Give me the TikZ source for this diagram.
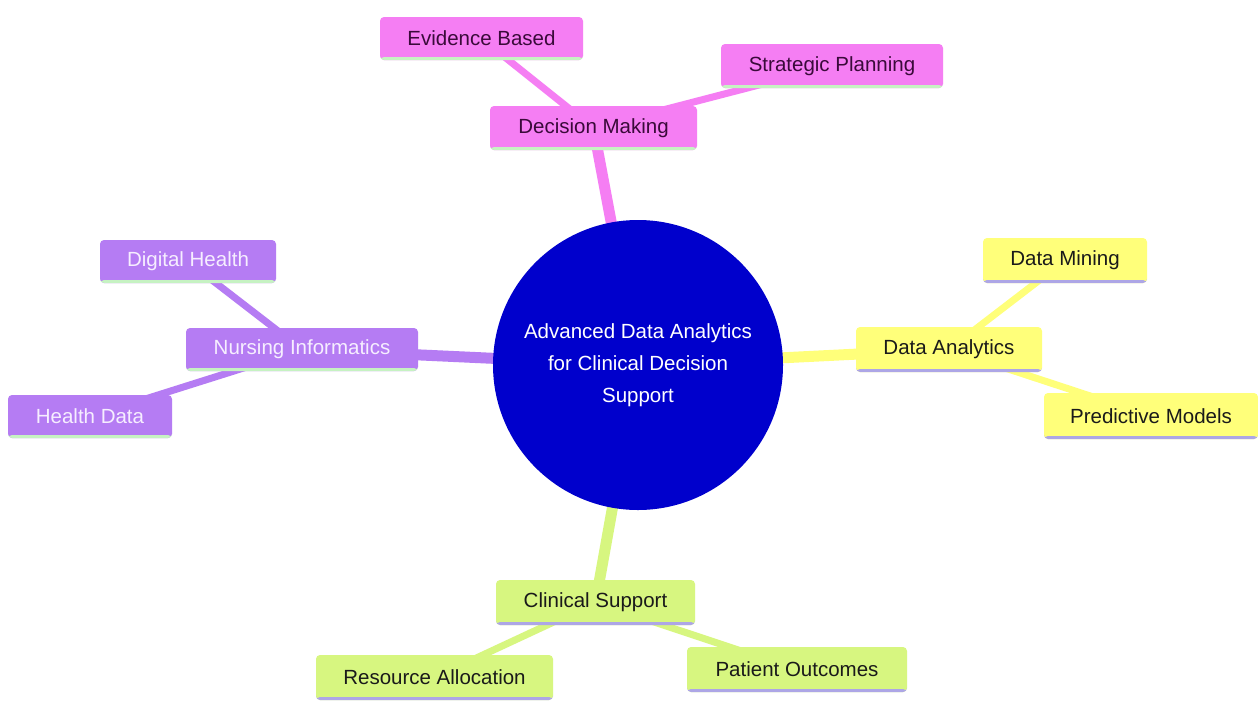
\documentclass[tikz,border=0pt]{standalone}
\usepackage{fontspec}
\setmainfont{Liberation Sans}
\pgfdeclarelayer{bg}
\pgfsetlayers{bg,main}
\definecolor{pinkc}{HTML}{F57EF3}
\definecolor{pinkt}{HTML}{3A0A3A}
\definecolor{purc}{HTML}{B57CF3}
\definecolor{purt}{HTML}{F6EEFF}
\definecolor{yelc}{HTML}{FFFF7A}
\definecolor{grnc}{HTML}{D7F680}
\definecolor{darkt}{HTML}{1A1A1A}
\definecolor{lgreen}{HTML}{C6F2C2}
\definecolor{lav}{HTML}{ADA6E6}
\definecolor{rootc}{HTML}{0000CC}
\begin{document}
\begin{tikzpicture}[x=1pt,y=-1pt,
  mm/.style={rectangle, rounded corners=4pt, inner sep=0pt, minimum height=44pt,
    font=\fontsize{20.5}{24}\selectfont},
  pinkbox/.style={mm, fill=pinkc, text=pinkt, path picture={\fill[lgreen] ([yshift=3pt]path picture bounding box.south west) rectangle (path picture bounding box.south east);}},
  purbox/.style={mm, fill=purc, text=purt, path picture={\fill[lgreen] ([yshift=3pt]path picture bounding box.south west) rectangle (path picture bounding box.south east);}},
  yelbox/.style={mm, fill=yelc, text=darkt, path picture={\fill[lav] ([yshift=3pt]path picture bounding box.south west) rectangle (path picture bounding box.south east);}},
  grnbox/.style={mm, fill=grnc, text=darkt, path picture={\fill[lav] ([yshift=3pt]path picture bounding box.south west) rectangle (path picture bounding box.south east);}},
  mainedge/.style={line width=11pt},
  subedge/.style={line width=7pt},
]
\begin{pgfonlayer}{bg}
\fill[white] (0,0) rectangle (1258,705);
\end{pgfonlayer}
\useasboundingbox (0,0) rectangle (1258,705);

% nodes
\node[circle, fill=rootc, minimum size=290pt, inner sep=0pt, text=white, align=center,
  font=\fontsize{20.5}{32}\selectfont] (root) at (638,365)
  {Advanced Data Analytics\\for Clinical Decision\\Support};

\node[pinkbox, minimum width=203pt, minimum height=43pt] (eb) at (481.5,38.5) {Evidence Based};
\node[pinkbox, minimum width=222pt] (sp) at (832,66) {Strategic Planning};
\node[pinkbox, minimum width=207pt] (dm) at (593.5,128) {Decision Making};

\node[purbox, minimum width=176pt, minimum height=43pt] (dh) at (188,261.5) {Digital Health};
\node[purbox, minimum width=232pt, minimum height=43pt] (ni) at (302,349.5) {Nursing Informatics};
\node[purbox, minimum width=164pt, minimum height=43pt] (hd) at (90,416.5) {Health Data};

\node[yelbox, minimum width=164pt, minimum height=45pt] (dmi) at (1065,260.5) {Data Mining};
\node[yelbox, minimum width=186pt, minimum height=45pt] (da) at (949,349.5) {Data Analytics};
\node[yelbox, minimum width=214pt, minimum height=46pt] (pm) at (1151,416) {Predictive Models};

\node[grnbox, minimum width=199pt, minimum height=45pt] (cs) at (595.5,602.5) {Clinical Support};
\node[grnbox, minimum width=237pt, minimum height=45pt] (ra) at (434.5,677.5) {Resource Allocation};
\node[grnbox, minimum width=220pt, minimum height=45pt] (po) at (797,669.5) {Patient Outcomes};

% edges (behind nodes)
\begin{pgfonlayer}{bg}
\draw[mainedge, pinkc] (root.center) -- (dm.center);
\draw[subedge, pinkc] (dm.center) -- (eb.center);
\draw[subedge, pinkc] (dm.center) -- (sp.center);
\draw[mainedge, purc] (root.center) -- (ni.center);
\draw[subedge, purc] (ni.center) -- (dh.center);
\draw[subedge, purc] (ni.center) -- (hd.center);
\draw[mainedge, yelc] (root.center) -- (da.center);
\draw[subedge, yelc] (da.center) -- (dmi.center);
\draw[subedge, yelc] (da.center) -- (pm.center);
\draw[mainedge, grnc] (root.center) -- (cs.center);
\draw[subedge, grnc] (cs.center) -- (ra.center);
\draw[subedge, grnc] (cs.center) -- (po.center);
\end{pgfonlayer}
\end{tikzpicture}
\end{document}
